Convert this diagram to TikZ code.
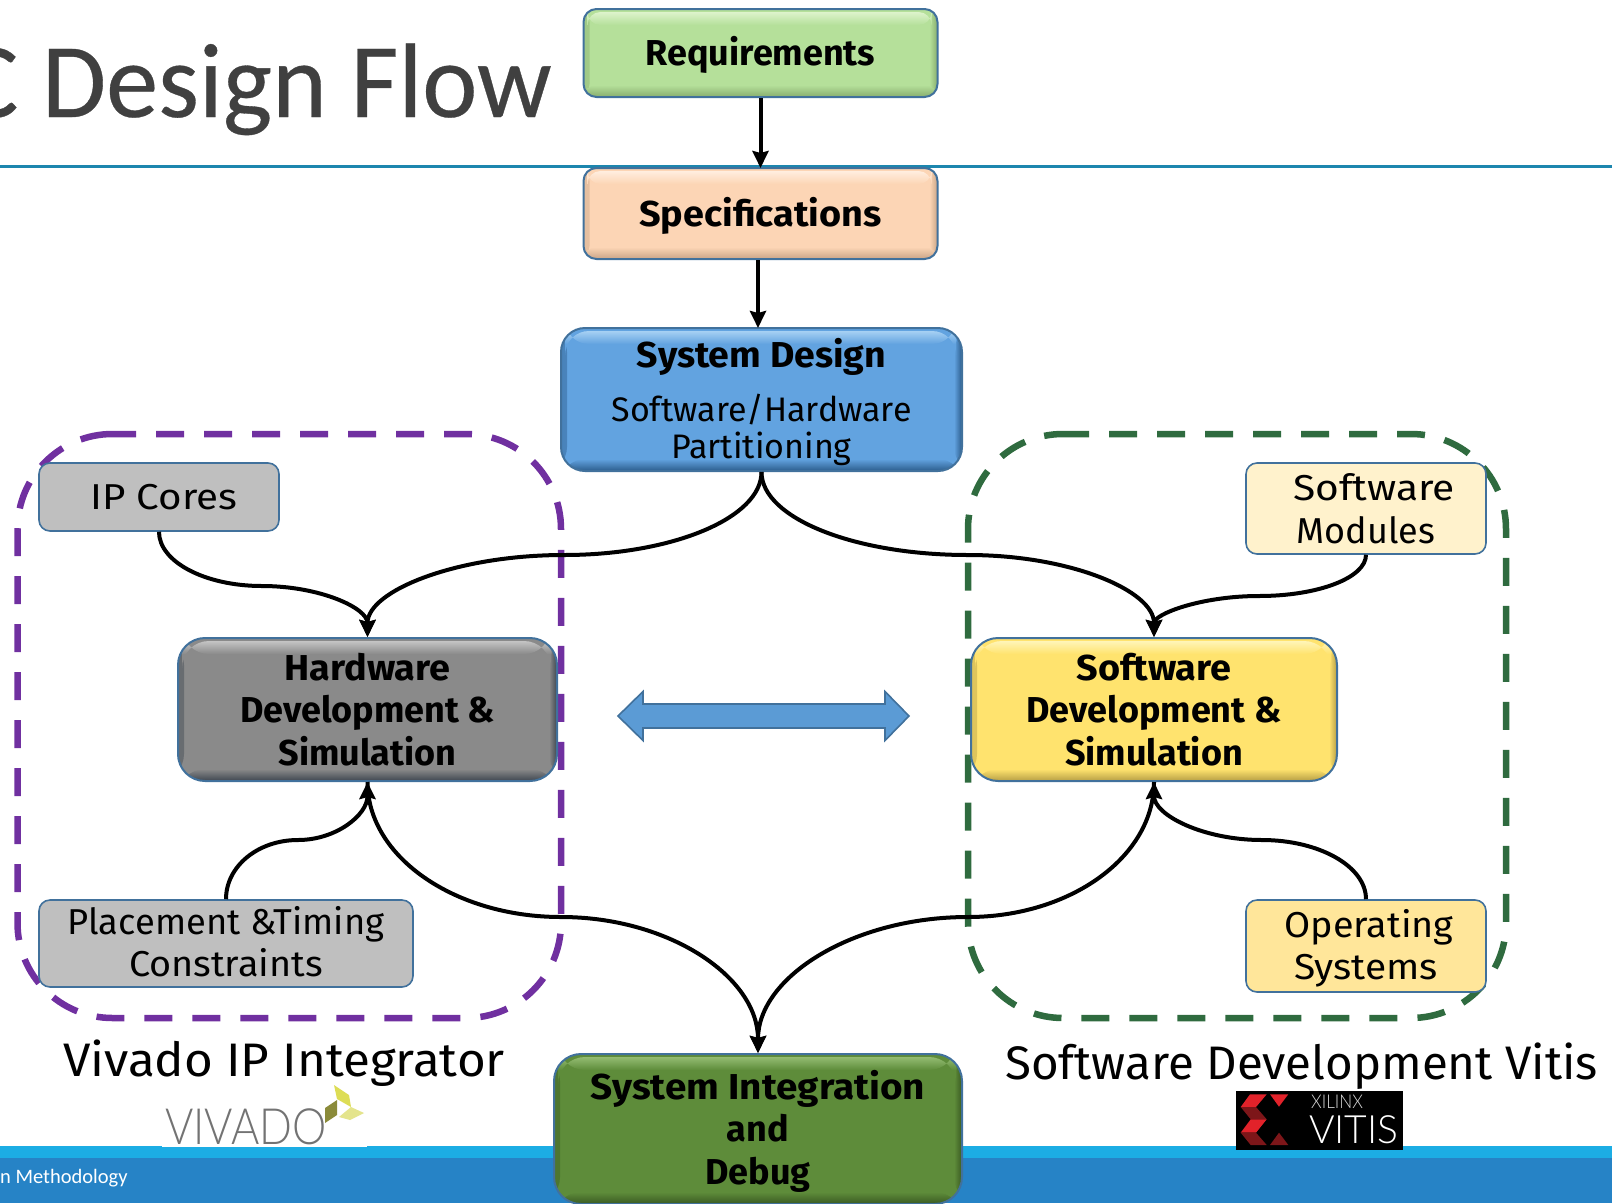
\documentclass[tikz,border=0pt]{standalone}
\usepackage{fontspec}
\setmainfont{Fira Sans}
\newfontfamily\slidefont[FakeBold=0.3,FakeStretch=0.985]{Carlito}
\newfontfamily\footfont{Carlito}
\IfFontExistsTF{Lato Light}{\newfontfamily\logofont{Lato Light}}{\newfontfamily\logofont{Lato}}
\usetikzlibrary{arrows.meta}
\newcommand{\hs}[2]{\scalebox{#1}[1]{#2}}
\definecolor{edgeblue}{HTML}{41719C}
\definecolor{ruleblue}{HTML}{1C86AE}
\definecolor{bandlight}{HTML}{1CADE4}
\definecolor{banddark}{HTML}{2683C6}
\definecolor{dashpurple}{HTML}{7030A0}
\definecolor{dashgreen}{HTML}{2F6B3F}
\definecolor{titlegrey}{HTML}{404040}
\definecolor{arrowfill}{HTML}{5B9BD5}
\definecolor{reqB}{HTML}{B5E09A}\definecolor{reqL}{HTML}{DDF3CC}\definecolor{reqD}{HTML}{87AD6E}
\definecolor{speB}{HTML}{FCD5B5}\definecolor{speL}{HTML}{FFEEDF}\definecolor{speD}{HTML}{C9A486}
\definecolor{sysB}{HTML}{62A3E0}\definecolor{sysL}{HTML}{A6D0F3}\definecolor{sysD}{HTML}{2B5C8C}
\definecolor{hwB}{HTML}{8A8A8A}\definecolor{hwL}{HTML}{C4C4C4}\definecolor{hwD}{HTML}{3E4650}
\definecolor{swB}{HTML}{FFE36E}\definecolor{swL}{HTML}{FFF5B8}\definecolor{swD}{HTML}{B59E45}
\definecolor{intB}{HTML}{5E8C3A}\definecolor{intL}{HTML}{93BC72}\definecolor{intD}{HTML}{3A5A22}
\definecolor{greyflat}{HTML}{BFBFBF}\definecolor{modflat}{HTML}{FFF2CC}\definecolor{osflat}{HTML}{FFE69A}
\definecolor{vivA}{HTML}{DDDD55}\definecolor{vivB}{HTML}{8B8B3A}\definecolor{vivC}{HTML}{E4E48C}
\definecolor{vitR}{HTML}{E2222A}\definecolor{vitD}{HTML}{7D1619}
\tikzset{
  x=1pt,y=-1pt,
  bevel/.style n args={4}{fill=#1, draw=edgeblue, line width=2pt, rounded corners=#4, inner sep=0pt, align=center,
    path picture={
      \fill[left color=#1!55!#3, right color=#1] (path picture bounding box.north west) rectangle ([xshift=6pt]path picture bounding box.south west);
      \fill[left color=#1, right color=#3] ([xshift=-8pt]path picture bounding box.north east) rectangle (path picture bounding box.south east);
      \fill[top color=#2, bottom color=#1] ([xshift=4pt,yshift=-3pt]path picture bounding box.north west) rectangle ([xshift=-6pt,yshift=-16pt]path picture bounding box.north east);
      \fill[top color=#1, bottom color=#3] ([yshift=12pt]path picture bounding box.south west) rectangle (path picture bounding box.south east);
    }},
  flatbox/.style={fill=#1, draw=edgeblue, line width=1.6pt, rounded corners=11pt, inner sep=0pt, align=center},
  bigtext/.style={font=\fontsize{36}{42.5}\selectfont\bfseries},
  smalltext/.style={font=\fontsize{36}{42.5}\selectfont},
  flowline/.style={draw=black, line width=4pt},
  flowarrow/.style={flowline, -{Stealth[length=17pt,width=16pt,inset=2pt]}},
  groupdash/.style={line width=6.5pt, dash pattern=on 28pt off 20pt},
  caption/.style={font=\fontsize{47}{50}\selectfont, anchor=base west, inner sep=0pt},
}
\begin{document}
\begin{tikzpicture}
\useasboundingbox (0,0) rectangle (1612,1203);
% slide furniture
\node[anchor=base east, inner sep=0pt, text=titlegrey, font=\slidefont\fontsize{106}{106}\selectfont] (title) at (552,117) {C Design Flow};
\fill[ruleblue] (0,164.5) rectangle (1612,167.5);
\fill[bandlight] (0,1146) rectangle (1612,1158);
\fill[banddark] (0,1158) rectangle (1612,1203);
\node[anchor=base west, inner sep=0pt, text=white, font=\footfont\fontsize{20.5}{24}\selectfont] (foot) at (0,1183) {n Methodology};
% dashed groups
\draw[groupdash, dashpurple] (108,434) -- (466,434) arc[start angle=90,end angle=0,x radius=95,y radius=-95]
  -- (561,923) arc[start angle=0,end angle=-90,x radius=95,y radius=-95]
  -- (112.5,1018) arc[start angle=-90,end angle=-180,x radius=95,y radius=-95]
  -- (17.5,529) arc[start angle=180,end angle=90,x radius=95,y radius=-95] -- cycle;
\draw[groupdash, dashgreen] (1061,434) -- (1411,434) arc[start angle=90,end angle=0,x radius=95,y radius=-95]
  -- (1506,923) arc[start angle=0,end angle=-90,x radius=95,y radius=-95]
  -- (1063,1018) arc[start angle=-90,end angle=-180,x radius=95,y radius=-95]
  -- (968,529) arc[start angle=180,end angle=90,x radius=95,y radius=-95] -- cycle;
% main boxes
\node[bevel={reqB}{reqL}{reqD}{13pt}, bigtext, minimum width=354pt, minimum height=88pt] (req) at (760.5,53) {\rule{0pt}{33pt}Requirements};
\node[bevel={speB}{speL}{speD}{13pt}, bigtext, minimum width=354pt, minimum height=91pt] (spec) at (760.5,213.5) {\rule{0pt}{33pt}\hs{1.05}{Specifications}};
\node[bevel={sysB}{sysL}{sysD}{24pt}, font=\fontsize{34}{37}\selectfont, minimum width=401pt, minimum height=143pt] (sys) at (761.5,399.5)
  {\rule{0pt}{35pt}{\fontsize{36}{37}\selectfont\bfseries \hs{1.04}{System Design}}\\[17pt]
   Software/Hardware\\
   Partitioning};
\node[bevel={hwB}{hwL}{hwD}{27pt}, bigtext, minimum width=379pt, minimum height=143pt] (hw) at (367.5,709.5) {\hs{1.05}{Hardware}\\Development \&\\Simulation};
\node[bevel={swB}{swL}{swD}{27pt}, bigtext, minimum width=366pt, minimum height=143pt] (sw) at (1154,709.5) {\hs{1.05}{Software}\\Development \&\\Simulation};
\node[bevel={intB}{intL}{intD}{27pt}, bigtext, minimum width=408pt, minimum height=150pt] (int) at (758,1129) {\rule{0pt}{33pt}\hs{1.075}{System Integration}\\and\\Debug};
% side boxes
\node[flatbox=greyflat, smalltext, minimum width=240pt, minimum height=68pt] (ip) at (159,497) {\hspace{10pt}\hs{1.12}{IP Cores}};
\node[flatbox=modflat, smalltext, minimum width=240pt, minimum height=91pt] (mod) at (1366,508.5) {\hspace{16pt}\hs{1.13}{Software}\\Modules};
\node[flatbox=greyflat, smalltext, minimum width=374pt, minimum height=87pt] (place) at (226,943.5) {\hs{1.01}{Placement \&Timing}\\\hs{1.05}{Constraints}\rule[-4pt]{0pt}{0pt}};
\node[flatbox=osflat, smalltext, minimum width=240pt, minimum height=92pt] (os) at (1366,946) {\rule{0pt}{33pt}\hspace{6pt}\hs{1.05}{Operating}\\\hs{1.08}{Systems}};
% double arrow
\filldraw[fill=arrowfill, draw=edgeblue, line width=1.6pt, line join=miter]
  (618,716) -- (643,691.5) -- (643,704) -- (885,704) -- (885,691.5) -- (909,716)
  -- (885,740.5) -- (885,728) -- (643,728) -- (643,740.5) -- cycle;
% connectors
\coordinate (mL) at (564,555);
\coordinate (mR) at (968,555);
\coordinate (mIP) at (262,586);
\coordinate (mMod) at (1259,596);
\coordinate (mPl) at (298,840);
\coordinate (mOS) at (1262,840);
\coordinate (mHI) at (561,917);
\coordinate (mSI) at (968,917);
\draw[flowarrow] (req.south) -- ([yshift=-1pt]spec.north);
\draw[flowarrow] ([xshift=-2.5pt]spec.south) -- ([xshift=-3.5pt,yshift=-1pt]sys.north);
\draw[flowarrow] (sys.south) .. controls +(0,46) and +(108,0) .. (mL) .. controls +(-108,0) and +(0,-46) .. (hw.north);
\draw[flowarrow] (sys.south) .. controls +(0,46) and +(-114,0) .. (mR) .. controls +(103,0) and +(0,-46) .. (sw.north);
\draw[flowarrow] (ip.south) .. controls +(0,30) and +(-57,0) .. (mIP) .. controls +(58,0) and +(0,-29) .. (hw.north);
\draw[flowarrow] (mod.south) .. controls +(0,23) and +(59,0) .. (mMod) .. controls +(-58,0) and +(0,-23) .. (sw.north);
\draw[flowarrow] (place.north) .. controls +(0,-33) and +(-40,0) .. (mPl) .. controls +(38,0) and +(0,33) .. (hw.south);
\draw[flowarrow] (os.north) .. controls +(0,-33) and +(57,0) .. (mOS) .. controls +(-59,0) and +(0,33) .. (sw.south);
\draw[flowarrow] (hw.south) .. controls +(0,75) and +(-106,0) .. (mHI) .. controls +(108,0) and +(0,-76) .. (int.north);
\draw[flowarrow] (sw.south) .. controls +(0,75) and +(102,0) .. (mSI) .. controls +(-115,0) and +(0,-76) .. (int.north);
% vivado logo
\fill[white] (162,1110) rectangle (367,1147);
\node[anchor=base west, inner sep=0pt, text=black!55, font=\logofont\fontsize{50}{50}\selectfont] (viv) at (165,1144) {\hs{0.865}{VIVADO}};
\fill[vivA] (334,1085) -- (349,1095) -- (351,1107) -- (337,1099) -- cycle;
\fill[vivB] (325,1108) -- (337,1100) -- (337,1115) -- (325,1123) -- cycle;
\fill[vivC] (339,1117) -- (351,1107) -- (364,1113) -- (350,1120) -- cycle;
% captions
\node[caption] (capL) at (63,1076) {\hs{1.05}{Vivado IP Integrator}};
\node[caption] (capR) at (1005,1079) {\hs{1.01}{Software Development Vitis}};
% vitis logo
\fill[black] (1236,1091) rectangle (1403,1150);
\fill[vitR] (1250,1094.3) -- (1266.7,1094.3) -- (1256,1107) -- (1240.7,1107) -- cycle;
\fill[vitD] (1240.7,1107) -- (1256,1107) -- (1266.7,1119.3) -- (1250.7,1119.3) -- cycle;
\fill[vitR] (1250.7,1119.3) -- (1266.7,1119.3) -- (1256,1132.7) -- (1240.7,1132.7) -- cycle;
\fill[vitD] (1240.7,1132.7) -- (1256,1132.7) -- (1266.7,1145) -- (1250.7,1145) -- cycle;
\fill[vitR] (1270,1094.3) -- (1288.3,1094.3) -- (1279,1106.7) -- cycle;
\fill[vitD] (1279,1132.7) -- (1288.3,1145) -- (1270,1145) -- cycle;
\node[anchor=base west, inner sep=0pt, text=white!85!black, font=\logofont\fontsize{19}{19}\selectfont] (xil) at (1311,1108) {\hs{0.9}{XILINX}};
\node[anchor=base west, inner sep=0pt, text=white, font=\logofont\fontsize{39}{39}\selectfont] (vit) at (1309,1143) {VITIS};
\end{tikzpicture}
\end{document}
